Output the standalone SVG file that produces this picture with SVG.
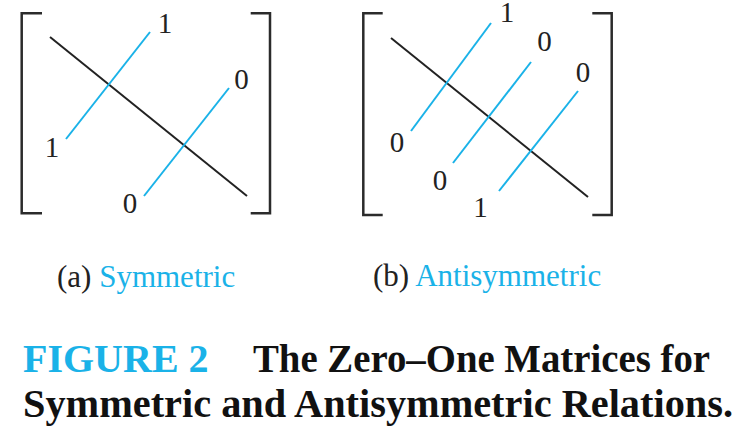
<svg xmlns="http://www.w3.org/2000/svg" width="755" height="436" viewBox="0 0 755 436">
<style>
.br{fill:none;stroke:#2b2b2b;stroke-width:2.5}
.dg{stroke:#222;stroke-width:2;fill:none}
.bl{stroke:#1ab2e8;stroke-width:2;fill:none}
.num{font-family:"Liberation Serif","Times New Roman",serif;font-size:29px;fill:#222;text-anchor:middle}
.cap{font-family:"Liberation Serif","Times New Roman",serif;font-size:31px;fill:#222}
.blue{fill:#1ab2e8}
.fig{font-family:"Liberation Serif","Times New Roman",serif;font-size:40px;font-weight:bold;fill:#111}
</style>
<rect width="755" height="436" fill="#fff"/>
<g id="matrix-a">
  <path class="br" d="M42,13.3 H21.7 V213.3 H42"/>
  <path class="br" d="M250.7,13.3 H270 V213.3 H250.7"/>
</g>
<g id="matrix-b">
  <path class="br" d="M382.7,13.3 H363.3 V215 H382.7"/>
  <path class="br" d="M592.3,13.3 H611.7 V215 H592.3"/>
</g>
<g id="connectors">
  <line class="dg" x1="50" y1="37" x2="247" y2="196"/>
  <line class="bl" x1="66" y1="139" x2="150" y2="32"/>
  <line class="bl" x1="144" y1="196" x2="229" y2="88"/>
  <line class="dg" x1="391" y1="38" x2="588" y2="197"/>
  <line class="bl" x1="411" y1="131" x2="491" y2="23"/>
  <line class="bl" x1="453" y1="163" x2="531" y2="62"/>
  <line class="bl" x1="499" y1="191" x2="578" y2="91"/>
</g>
<g id="labels-a">
  <text class="num" x="165" y="33">1</text>
  <text class="num" x="241.5" y="89">0</text>
  <text class="num" x="52" y="157">1</text>
  <text class="num" x="130" y="213">0</text>
</g>
<g id="labels-b">
  <text class="num" x="507" y="22">1</text>
  <text class="num" x="544.5" y="51">0</text>
  <text class="num" x="583" y="82">0</text>
  <text class="num" x="397" y="152">0</text>
  <text class="num" x="440" y="190">0</text>
  <text class="num" x="480.5" y="217">1</text>
</g>
<g id="captions">
  <text class="cap" x="57" y="287">(a) <tspan class="blue">Symmetric</tspan></text>
  <text class="cap" x="373" y="286">(b) <tspan class="blue">Antisymmetric</tspan></text>
</g>
<g id="title">
  <text class="fig" x="23" y="372"><tspan class="blue">FIGURE 2</tspan></text>
  <text class="fig" x="253" y="372" textLength="457" lengthAdjust="spacingAndGlyphs">The Zero–One Matrices for</text>
  <text class="fig" x="23" y="417" textLength="710" lengthAdjust="spacingAndGlyphs">Symmetric and Antisymmetric Relations.</text>
</g>
</svg>
